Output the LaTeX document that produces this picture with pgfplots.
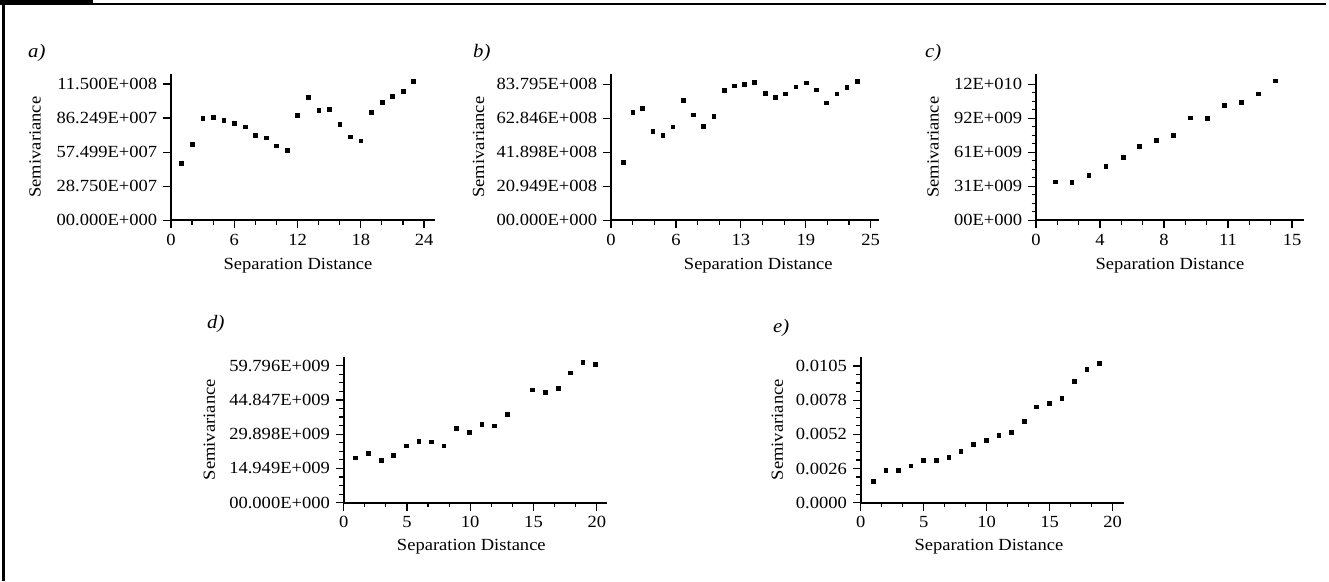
\documentclass[border=0pt]{standalone}
\usepackage{fontspec}
\setmainfont{Liberation Serif}[FakeStretch=1.09]
\usepackage{pgfplots}
\pgfplotsset{compat=1.18}

\pgfplotsset{
 sv/.style={
  scale only axis,
  axis x line=bottom, axis y line=left,
  axis line style={-, line width=1.8pt},
  tick align=outside,
  major tick length=8pt, minor tick length=4.5pt,
  every tick/.style={black, line width=1.2pt},
  minor x tick num=2, minor y tick num=3,
  xmin=0, ymin=0,
  scaled ticks=false,
  ylabel={Semivariance}, xlabel={Separation Distance},
  every axis y label/.style={rotate=90, anchor=center},
  every axis x label/.style={anchor=base},
  clip=false,
  height=146.3pt,
 },
 mk/.style={only marks, mark=square*, mark size=1.9pt, black},
}

\begin{document}
\fontsize{17}{20}\selectfont
\begin{tikzpicture}
\useasboundingbox (0,0) rectangle (1329pt,-581pt);
% frame
\fill[black] (0,0) rectangle (92.7pt,-3.7pt);
\draw[line width=2.4pt] (0,-3.9pt) -- (1325.5pt,-3.9pt);
\draw[line width=3pt] (3.3pt,-3.9pt) -- (3.3pt,-581pt);

% panel labels
\begin{scope}[every node/.style={anchor=base west, inner sep=0, font=\fontsize{19}{22}\selectfont\itshape}]
\node at (28pt,-57.5pt) {a)};
\node at (473pt,-57.5pt) {b)};
\node at (925pt,-57.5pt) {c)};
\node at (207pt,-328.3pt) {d)};
\node at (773pt,-332.5pt) {e)};
\end{scope}

% a) units of 1e8
\begin{axis}[sv, at={(171pt,-220.3pt)}, anchor=origin,
  width=264pt, xmax=25.04, ymax=12.34,
  xtick={0,6,12,18,24}, xticklabels={0,6,12,18,24},
  ytick={0,2.875,5.7499,8.6249,11.5},
  yticklabels={00.000E+000,28.750E+007,57.499E+007,86.249E+007,11.500E+008},
  xlabel style={at={(axis description cs:0.481,-0.336)}},
  ylabel style={at={(axis description cs:-0.515,0.5)}}]
\addplot[mk] coordinates {
(1,4.85) (2,6.40) (3,8.625) (4,8.68) (5,8.43) (6,8.20) (7,7.89) (8,7.16)
(9,6.96) (10,6.29) (11,5.89) (12,8.88) (13,10.40) (14,9.27) (15,9.39)
(16,8.12) (17,7.05) (18,6.71) (19,9.13) (20,9.95) (21,10.49) (22,10.91) (23,11.70)};
\end{axis}

% b) units of 1e9
\begin{axis}[sv, at={(611pt,-220.3pt)}, anchor=origin,
  width=268.3pt, xmax=25.83, ymax=9.016,
  xtick={0,6.25,12.5,18.75,25}, xticklabels={0,6,13,19,25},
  ytick={0,2.0949,4.1898,6.2846,8.3795},
  yticklabels={00.000E+000,20.949E+008,41.898E+008,62.846E+008,83.795E+008},
  xlabel style={at={(axis description cs:0.549,-0.336)}},
  ylabel style={at={(axis description cs:-0.494,0.5)}}]
\addplot[mk] coordinates {
(1.16,3.574) (2.09,6.654) (3.02,6.901) (4.01,5.484) (4.97,5.237) (5.94,5.767)
(6.96,7.394) (7.93,6.507) (8.89,5.792) (9.88,6.408) (10.88,8.010) (11.84,8.293)
(12.84,8.380) (13.80,8.503) (14.83,7.844) (15.82,7.579) (16.78,7.800) (17.78,8.232)
(18.77,8.478) (19.74,8.047) (20.70,7.246) (21.73,7.800) (22.69,8.195) (23.72,8.583)};
\end{axis}

% c) units of 1e10
\begin{axis}[sv, at={(1036pt,-220.3pt)}, anchor=origin,
  width=268pt, xmax=15.70, ymax=13.21,
  xtick={0,3.75,7.5,11.25,15}, xticklabels={0,4,8,11,15},
  ytick={0,3.07,6.14,9.21,12.28},
  yticklabels={00E+000,31E+009,61E+009,92E+009,12E+010},
  xlabel style={at={(axis description cs:0.5,-0.336)}},
  ylabel style={at={(axis description cs:-0.384,0.5)}}]
\addplot[mk] coordinates {
(1.11,3.49) (2.09,3.43) (3.09,4.06) (4.08,4.85) (5.10,5.69) (6.04,6.68)
(7.03,7.25) (8.03,7.68) (9.02,9.27) (10.04,9.21) (11.04,10.38) (12.01,10.68)
(13.01,11.44) (14.02,12.61)};
\end{axis}

% d) units of 1e9
\begin{axis}[sv, at={(343.7pt,-502.7pt)}, anchor=origin,
  width=263.7pt, height=146pt, xmax=20.84, ymax=63.72,
  xtick={0,5,10,15,20}, xticklabels={0,5,10,15,20},
  ytick={0,14.949,29.898,44.847,59.796},
  yticklabels={00.000E+000,14.949E+009,29.898E+009,44.847E+009,59.796E+009},
  xlabel style={at={(axis description cs:0.484,-0.329)}},
  ylabel style={at={(axis description cs:-0.51,0.5)}}]
\addplot[mk] coordinates {
(0.92,19.64) (1.95,21.53) (2.95,18.62) (3.93,20.66) (4.93,24.88) (5.93,26.92)
(6.94,26.62) (7.91,24.88) (8.91,32.59) (9.91,30.70) (10.91,34.19) (11.88,33.61)
(12.89,38.70) (14.92,49.32) (15.92,48.30) (16.92,49.90) (17.92,56.74)
(18.89,61.40) (19.89,60.38)};
\end{axis}

% e)
\begin{axis}[sv, at={(860.7pt,-502.7pt)}, anchor=origin,
  width=263.7pt, height=146pt, xmax=20.93, ymax=0.01116,
  xtick={0,5,10,15,20}, xticklabels={0,5,10,15,20},
  ytick={0,0.0026125,0.005225,0.0078375,0.01045},
  yticklabels={0.0000,0.0026,0.0052,0.0078,0.0105},
  xlabel style={at={(axis description cs:0.486,-0.325)}},
  ylabel style={at={(axis description cs:-0.316,0.5)}}]
\addplot[mk] coordinates {
(1.0,0.001657) (1.98,0.002472) (2.99,0.002472) (3.97,0.002829) (4.97,0.003237)
(5.98,0.003237) (6.98,0.003492) (7.94,0.003951) (8.94,0.004486) (9.95,0.004792)
(10.95,0.005149) (11.96,0.005403) (12.96,0.006219) (13.94,0.007340)
(14.95,0.007595) (15.95,0.008003) (16.93,0.009303) (17.94,0.01022) (18.92,0.01065)};
\end{axis}
\end{tikzpicture}
\end{document}
